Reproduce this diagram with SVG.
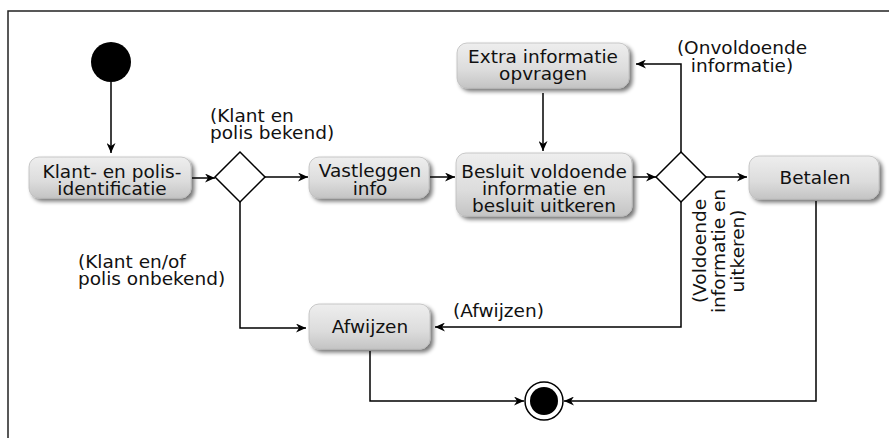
<svg xmlns="http://www.w3.org/2000/svg" width="889" height="438" viewBox="0 0 889 438">
<defs>
<linearGradient id="g" x1="0" y1="0" x2="0" y2="1">
<stop offset="0" stop-color="#eeeeee"/>
<stop offset="0.6" stop-color="#dcdcdc"/>
<stop offset="1" stop-color="#c4c4c4"/>
</linearGradient>
<filter id="sh" x="-20%" y="-30%" width="140%" height="170%">
<feGaussianBlur in="SourceAlpha" stdDeviation="2"/>
<feOffset dx="3" dy="3" result="b"/>
<feComponentTransfer><feFuncA type="linear" slope="0.55"/></feComponentTransfer>
<feMerge><feMergeNode/><feMergeNode in="SourceGraphic"/></feMerge>
</filter>
<marker id="ar" markerWidth="11" markerHeight="9" refX="10" refY="4.5" orient="auto" markerUnits="userSpaceOnUse">
<path d="M0,0 L10,4.5 L0,9 L3,4.5 z" fill="#000"/>
</marker>
</defs>
<style>
text{font-family:"DejaVu Sans","Liberation Sans",sans-serif;font-size:18.5px;fill:#111}
.c{text-anchor:middle}
.box{fill:url(#g);stroke:#bdbdbd;stroke-width:0.8;filter:url(#sh)}
.ln{fill:none;stroke:#000;stroke-width:1.5}
.a{marker-end:url(#ar)}
.dm{fill:#fff;stroke:#000;stroke-width:1.5}
</style>
<rect width="889" height="438" fill="#fff"/>
<path d="M8,438 V11 H889" fill="none" stroke="#222" stroke-width="1.5"/>

<g id="connectors">
<path class="ln a" d="M111,82 V153"/>
<path class="ln a" d="M192,178 H215"/>
<path class="ln a" d="M265,177 H308"/>
<path class="ln a" d="M430,177 H455"/>
<path class="ln a" d="M543,93 V151"/>
<path class="ln a" d="M633,177 H656"/>
<path class="ln a" d="M681,152 V64 H636"/>
<path class="ln a" d="M706,177 H747"/>
<path class="ln a" d="M681,202 V327 H435"/>
<path class="ln a" d="M240,202 V328 H306"/>
<path class="ln a" d="M370,351 V401 H524"/>
<path class="ln a" d="M816,201 V401 H564"/>
</g>

<g id="start"><circle cx="111" cy="62" r="20" fill="#000"/></g>

<g id="klant">
<rect class="box" x="29" y="157" width="162" height="41" rx="10"/>
<text class="c" x="112" y="178">Klant- en polis-</text>
<text class="c" x="112" y="195">identificatie</text>
</g>

<g id="decision1"><path class="dm" d="M240,152 L265,177 L240,202 L215,177 z"/></g>

<g id="vastleggen">
<rect class="box" x="309" y="157" width="120" height="41" rx="10"/>
<text class="c" x="370" y="177">Vastleggen</text>
<text class="c" x="370" y="195">info</text>
</g>

<g id="extra">
<rect class="box" x="457" y="43" width="172" height="45" rx="10"/>
<text class="c" x="543" y="63">Extra informatie</text>
<text class="c" x="543" y="80">opvragen</text>
</g>

<g id="besluit">
<rect class="box" x="456" y="153" width="176" height="63" rx="10"/>
<text class="c" x="544" y="178">Besluit voldoende</text>
<text class="c" x="544" y="195">informatie en</text>
<text class="c" x="544" y="212">besluit uitkeren</text>
</g>

<g id="decision2"><path class="dm" d="M681,152 L706,177 L681,202 L656,177 z"/></g>

<g id="betalen">
<rect class="box" x="749" y="156" width="130" height="43" rx="10"/>
<text class="c" x="815" y="184">Betalen</text>
</g>

<g id="afwijzen">
<rect class="box" x="309" y="304" width="121" height="45" rx="10"/>
<text class="c" x="370" y="333">Afwijzen</text>
</g>

<g id="end">
<circle cx="544" cy="401" r="19" fill="#fff" stroke="#000" stroke-width="1.5"/>
<circle cx="544" cy="401" r="14" fill="#000"/>
</g>

<g id="labels">
<text x="210" y="122">(Klant en</text>
<text x="210" y="139">polis bekend)</text>
<text x="78" y="268">(Klant en/of</text>
<text x="78" y="285">polis onbekend)</text>
<text x="453" y="317">(Afwijzen)</text>
<text class="c" x="742" y="54">(Onvoldoende</text>
<text class="c" x="742" y="72">informatie)</text>
<g transform="translate(706,251) rotate(-90)">
<text class="c" x="0" y="0">(Voldoende</text>
<text class="c" x="0" y="19">informatie en</text>
<text class="c" x="0" y="38">uitkeren)</text>
</g>
</g>
</svg>
